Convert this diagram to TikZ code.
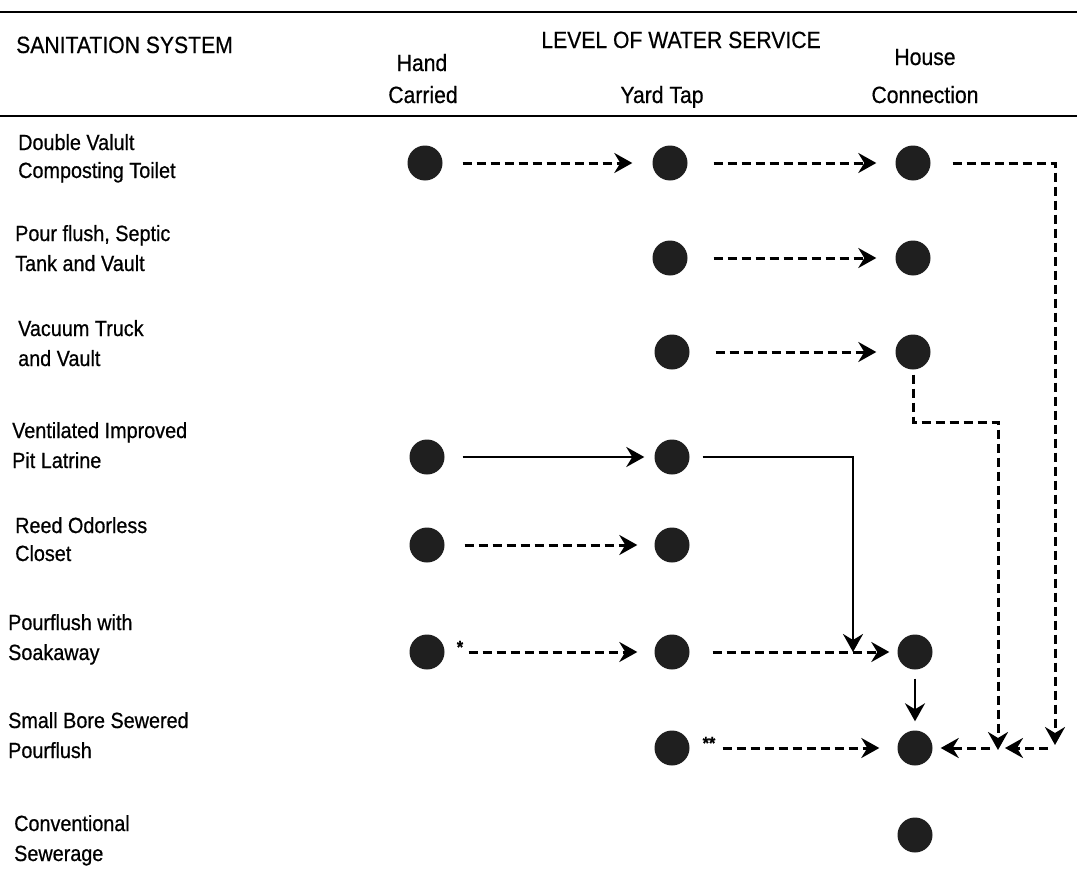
\documentclass[tikz,border=0pt]{standalone}
\usepackage{fontspec}
\setmainfont[FakeStretch=0.9,FakeBold=0.6]{Liberation Sans}
\usetikzlibrary{arrows.meta}
\begin{document}
\begin{tikzpicture}[x=1pt,y=-1pt,
  dot/.style={circle,fill=black!88,minimum size=35pt,inner sep=0pt},
  lab/.style={anchor=base west,inner sep=0pt,font=\fontsize{22}{26}\selectfont},
  head/.style={anchor=base,inner sep=0pt,font=\fontsize{23.5}{27}\selectfont},
  tip/.style={-{Stealth[length=18pt,width=20pt,inset=6pt]}},
  dashline/.style={line width=3pt,dash pattern=on 9pt off 5pt},
  solidline/.style={line width=2.5pt},
  fnmark/.style={inner sep=0pt,font=\fontsize{18}{20}\selectfont\bfseries},
]
\useasboundingbox (0,0) rectangle (1077,886);

% rules
\draw[line width=2pt] (0,12) -- (1077,12);
\draw[line width=1.6pt] (0,116) -- (1077,116);

% headings
\node[head,anchor=base west] (hs) at (16,53) {SANITATION SYSTEM};
\node[head] (hl) at (681,48) {LEVEL OF WATER SERVICE};
\node[head] (hh1) at (422,71) {Hand};
\node[head] (hh2) at (423,103) {Carried};
\node[head] (hy) at (662,103) {Yard Tap};
\node[head] (hc1) at (925,65) {House};
\node[head] (hc2) at (925,103) {Connection};

% sanitation systems
\node[lab] (l1a) at (18,150) {Double Valult};
\node[lab] (l1b) at (18,178) {Composting Toilet};
\node[lab] (l2a) at (15,241) {Pour flush, Septic};
\node[lab] (l2b) at (15,271) {Tank and Vault};
\node[lab] (l3a) at (18,336) {Vacuum Truck};
\node[lab] (l3b) at (18,366) {and Vault};
\node[lab] (l4a) at (12,438) {Ventilated Improved};
\node[lab] (l4b) at (12,468) {Pit Latrine};
\node[lab] (l5a) at (15,533) {Reed Odorless};
\node[lab] (l5b) at (15,561) {Closet};
\node[lab] (l6a) at (8,630) {Pourflush with};
\node[lab] (l6b) at (8,660) {Soakaway};
\node[lab] (l7a) at (8,728) {Small Bore Sewered};
\node[lab] (l7b) at (8,758) {Pourflush};
\node[lab] (l8a) at (14,831) {Conventional};
\node[lab] (l8b) at (14,861) {Sewerage};

% service levels
\node[dot] (h1) at (425,163) {};
\node[dot] (y1) at (670,163) {};
\node[dot] (c1) at (913,163) {};
\node[dot] (y2) at (670,258) {};
\node[dot] (c2) at (913,258) {};
\node[dot] (y3) at (672,352) {};
\node[dot] (c3) at (913,352) {};
\node[dot] (h4) at (427,457) {};
\node[dot] (y4) at (672,457) {};
\node[dot] (h5) at (427,545) {};
\node[dot] (y5) at (672,545) {};
\node[dot] (h6) at (427,652) {};
\node[dot] (y6) at (672,652) {};
\node[dot] (c6) at (915,652) {};
\node[dot] (y7) at (672,748) {};
\node[dot] (c7) at (915,748) {};
\node[dot] (c8) at (915,835) {};

% footnote marks
\node[fnmark] (ast1) at (460,647) {*};
\node[fnmark] (ast2) at (709,743) {**};

% upgrade paths
\draw[dashline,tip,shorten <=20pt,shorten >=20pt] (h1) -- (y1);
\draw[dashline,tip,shorten <=26pt,shorten >=19pt] (y1) -- (c1);
\draw[dashline,tip,shorten <=26pt,shorten >=19pt] (y2) -- (c2);
\draw[dashline,tip,shorten <=26pt,shorten >=19pt] (y3) -- (c3);
\draw[solidline,tip,shorten <=18pt,shorten >=10pt] (h4) -- (y4);
\draw[dashline,tip,shorten <=20pt,shorten >=17pt] (h5) -- (y5);
\draw[dashline,tip,shorten <=24pt,shorten >=17pt] (h6) -- (y6);
\draw[dashline,tip,shorten <=23pt,shorten >=8pt] (y6) -- (c6);
\draw[solidline,tip,shorten <=9pt,shorten >=9pt] (c6) -- (c7);
\draw[dashline,tip,shorten <=33pt,shorten >=18pt] (y7) -- (c7);

\coordinate (j6) at (853,652);
\draw[solidline,tip,shorten <=13pt] (y4.east) -| (j6);

\coordinate (rb) at (1055,745);
\draw[dashline,tip,shorten <=22pt] (c1.east) -| (rb);
\coordinate (rbl) at (1048,748);
\coordinate (mbr) at (1005,748);
\draw[dashline,tip] (rbl) -- (mbr);

\coordinate (mt) at (998,422);
\coordinate (mb) at (998,750);
\draw[dashline,tip,shorten <=5pt] (c3.south) |- (mt) -- (mb);
\coordinate (mbl) at (990,748);
\draw[dashline,tip,shorten >=8pt] (mbl) -- (c7);
\end{tikzpicture}
\end{document}
